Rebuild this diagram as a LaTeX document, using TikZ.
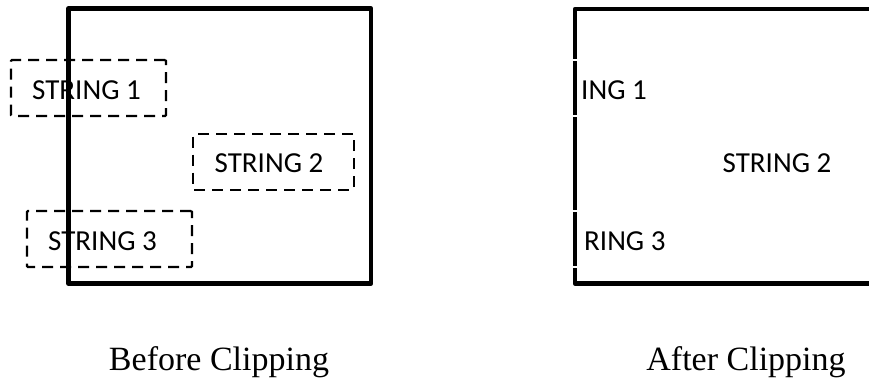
\documentclass[tikz,border=0pt]{standalone}
\usepackage{fontspec}
\setmainfont{Liberation Serif}
\newfontfamily\calib{Carlito}
\begin{document}
\begin{tikzpicture}[x=1pt,y=-1pt,
  frame/.style={line width=4.5pt,line join=round},
  dbox/.style={draw,line width=2.4pt,dash pattern=on 11pt off 7pt,rounded corners=1pt,inner sep=0pt},
  lbl/.style={inner sep=0pt,font=\calib\fontsize{29}{34}\selectfont},
  captxt/.style={inner sep=0pt,anchor=base,font=\fontsize{34}{39}\selectfont}]
\useasboundingbox (0,0) rectangle (869,381);
% before clipping
\draw[frame] (68.5,8.5) rectangle (371,283.5);
\node[dbox,minimum width=155pt,minimum height=56pt] (b1) at (88.5,88) {};
\node[dbox,minimum width=161pt,minimum height=56pt] (b2) at (273.5,162) {};
\node[dbox,minimum width=165pt,minimum height=56pt] (b3) at (109.5,239) {};
\node[lbl] (t1) at (86.5,90) {STRING 1};
\node[lbl] (t2) at (269,163) {STRING 2};
\node[lbl] (t3) at (102.5,241) {STRING 3};
\node[captxt] (c1) at (219,370) {Before Clipping};
% after clipping
\draw[frame] (869,9) -- (575,9) -- (575,59);
\draw[frame,line cap=butt] (575,61) -- (575,115);
\draw[frame,line cap=butt] (575,117) -- (575,210);
\draw[frame,line cap=butt] (575,212) -- (575,266);
\draw[frame] (575,268) -- (575,283.5) -- (869,283.5);
\node[lbl,anchor=west] (r1) at (581,90) {ING 1};
\node[lbl] (r2) at (777,163) {STRING 2};
\node[lbl,anchor=west] (r3) at (584,241) {RING 3};
\node[captxt] (c2) at (746,370) {After Clipping};
\end{tikzpicture}
\end{document}
